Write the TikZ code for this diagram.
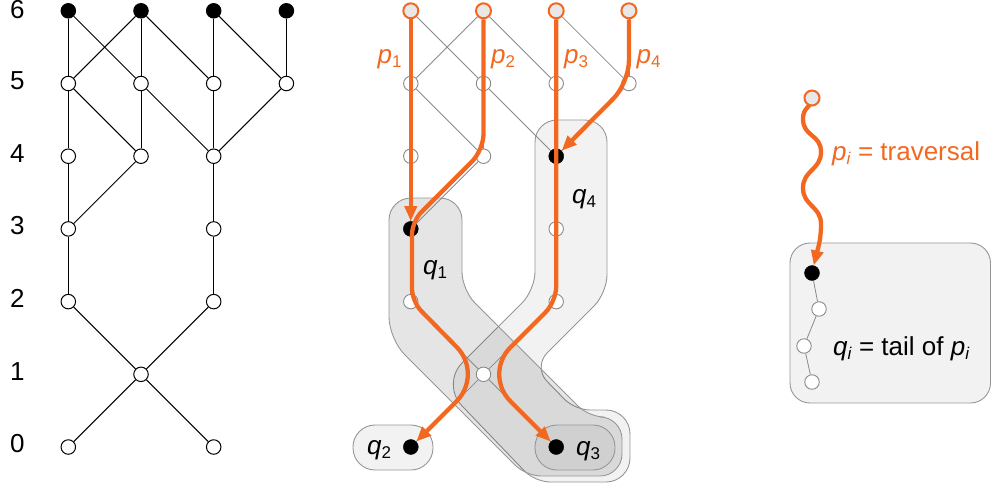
\documentclass[tikz,border=0pt]{standalone}
\usepackage{fontspec}
\setmainfont{Liberation Sans}
\usetikzlibrary{arrows.meta}

\pgfdeclarelayer{bg}
\pgfdeclarelayer{edges}
\pgfdeclarelayer{paths}
\pgfdeclarelayer{front}
\pgfsetlayers{bg,edges,main,paths,front}

\definecolor{trav}{RGB}{243,104,33}
\definecolor{edgegray}{RGB}{138,138,138}
\definecolor{blobline}{RGB}{150,150,150}
\definecolor{startfill}{RGB}{232,232,232}

% letter with a lowered, smaller index
\newcommand\subl[2]{\textit{#1}\raisebox{-4pt}{\fontsize{17}{17}\selectfont #2}}

\begin{document}
\begin{tikzpicture}[x=1pt,y=-1pt,
  lab/.style={inner sep=0pt, font=\fontsize{26}{30}\selectfont},
  lnode/.style={circle, inner sep=0pt, minimum size=14.5pt, draw=black, line width=1pt, fill=white},
  lfull/.style={lnode, fill=black},
  mopen/.style={circle, inner sep=0pt, minimum size=14.5pt, draw=edgegray, line width=0.9pt, fill=white},
  mfull/.style={circle, inner sep=0pt, minimum size=15pt, draw=black, fill=black},
  mstart/.style={circle, inner sep=0pt, minimum size=15pt, draw=trav, line width=2pt, fill=startfill},
  ledge/.style={draw=black, line width=1pt},
  medge/.style={draw=edgegray, line width=0.8pt},
  travpath/.style={draw=trav, line width=4.3pt, -{Triangle[length=15pt,width=12pt]}},
  blob/.style={draw=blobline, line width=0.9pt, fill=black},
]
\useasboundingbox (0,0) rectangle (992,488);

% ---------- level numbers ----------
\node[lab] (row6) at (17.3,10) {6};
\foreach \r/\y in {5/83.5, 4/156.2, 3/228.9, 2/301.6, 1/374.3, 0/447}
  \node[lab] (row\r) at (17.3,\y-3) {\r};

% ---------- left graph ----------
\node[lfull] (la6) at (68.3,10.8) {};
\node[lfull] (lb6) at (141,10.8) {};
\node[lfull] (lc6) at (213.7,10.8) {};
\node[lfull] (ld6) at (286.4,10.8) {};
\node[lnode] (la5) at (68.3,83.5) {};
\node[lnode] (lb5) at (141,83.5) {};
\node[lnode] (lc5) at (213.7,83.5) {};
\node[lnode] (ld5) at (286.4,83.5) {};
\node[lnode] (la4) at (68.3,156.2) {};
\node[lnode] (lb4) at (141,156.2) {};
\node[lnode] (lc4) at (213.7,156.2) {};
\node[lnode] (la3) at (68.3,228.9) {};
\node[lnode] (lc3) at (213.7,228.9) {};
\node[lnode] (la2) at (68.3,301.6) {};
\node[lnode] (lc2) at (213.7,301.6) {};
\node[lnode] (lb1) at (141,374.3) {};
\node[lnode] (la0) at (68.3,447) {};
\node[lnode] (lc0) at (213.7,447) {};

% ---------- tails (shaded regions) ----------
\begin{pgfonlayer}{bg}
  % q4
  \filldraw[blob, fill opacity=0.05] [rounded corners=22pt] (535,200) -- (535,120) -- (607,120)
    [rounded corners=18pt] -- (607,293) [rounded corners=20pt] -- (533,367)
    [rounded corners=15pt] -- (575,410) [rounded corners=24pt] -- (630,410) -- (630,482)
    [rounded corners=15pt] -- (535,482) [rounded corners=30pt] -- (441,384)
    [rounded corners=18pt] -- (535,290) -- cycle;
  % q1
  \filldraw[blob, fill opacity=0.1] [rounded corners=22pt] (389,260) -- (389,198) -- (462,198)
    [rounded corners=18pt] -- (462,290) [rounded corners=15pt] -- (589,417)
    [rounded corners=22pt] -- (622,417) -- (622,476) [rounded corners=15pt] -- (526,476)
    [rounded corners=22pt] -- (389,339) -- cycle;
  % q3 and q2
  \filldraw[blob, fill opacity=0.04, rounded corners=22pt] (535,425) rectangle (615,470);
  \filldraw[blob, fill opacity=0.05, rounded corners=22pt] (353,425) rectangle (433,470);
  % legend box
  \filldraw[blob, fill opacity=0.05, rounded corners=20pt] (790,243) rectangle (990.5,403);
\end{pgfonlayer}

% ---------- middle graph ----------
\begin{pgfonlayer}{front}
  \node[mstart] (ma6) at (410.8,10.8) {};
  \node[mstart] (mb6) at (483.5,10.8) {};
  \node[mstart] (mc6) at (556.2,10.8) {};
  \node[mstart] (md6) at (628.9,10.8) {};
  \node[mstart] (lgs) at (812,98) {};
\end{pgfonlayer}
\node[mopen] (ma5) at (410.8,83.5) {};
\node[mopen] (mb5) at (483.5,83.5) {};
\node[mopen] (mc5) at (556.2,83.5) {};
\node[mopen] (md5) at (628.9,83.5) {};
\node[mopen] (ma4) at (410.8,156.2) {};
\node[mopen] (mb4) at (483.5,156.2) {};
\node[mfull] (mc4) at (556.2,156.2) {};
\node[mfull] (ma3) at (410.8,228.9) {};
\node[mopen] (mc3) at (556.2,228.9) {};
\node[mopen] (ma2) at (410.8,301.6) {};
\node[mopen] (mc2) at (556.2,301.6) {};
\node[mopen] (mb1) at (483.5,374.3) {};
\node[mfull] (ma0) at (410.8,447) {};
\node[mfull] (mc0) at (556.2,447) {};

% ---------- legend nodes ----------
\node[mfull] (lg0) at (812,273) {};
\node[mopen] (lg1) at (819,309) {};
\node[mopen] (lg2) at (804,346) {};
\node[mopen] (lg3) at (812,382) {};

% ---------- edges ----------
\begin{pgfonlayer}{edges}
  \foreach \u/\v in {a6/a5, a6/b5, b6/a5, b6/b5, b6/c5, c6/c5, c6/d5, d6/d5,
                     a5/a4, a5/b4, b5/b4, b5/c4, c5/c4, d5/c4,
                     a4/a3, b4/a3, c4/c3, a3/a2, c3/c2, a2/b1, c2/b1, b1/a0, b1/c0} {
    \draw[ledge] (l\u) -- (l\v);
    \draw[medge] (m\u) -- (m\v);
  }
  \draw[medge] (lg0) -- (lg1) -- (lg2) -- (lg3);
\end{pgfonlayer}

% ---------- traversals ----------
\begin{pgfonlayer}{paths}
  \draw[travpath] (ma6) -- (ma3);
  \draw[travpath] (mb6) [rounded corners=16pt] -- (483.5,150) [rounded corners=13pt] -- (412,221.5)
    -- (412,301.6) [rounded corners=38pt] -- (mb1.center) -- (ma0);
  \draw[travpath] (mc6) [rounded corners=15pt] -- (556.2,301.6) [rounded corners=38pt]
    -- (mb1.center) -- (mc0);
  \draw[travpath] (md6) [rounded corners=22pt] -- (628.9,83) -- (mc4);
  \draw[travpath] (lgs.center) .. controls (812,108) and (803,106) .. (803,119)
    .. controls (803,137) and (821,134) .. (821,152)
    .. controls (821,170) and (803,170) .. (803,188)
    .. controls (803,206) and (821,206) .. (821,224)
    .. controls (821,240) and (818,248) .. (lg0);
\end{pgfonlayer}

% ---------- labels ----------
\node[lab, text=trav] (lp1) at (389.5,59.5) {\subl{p}{1}};
\node[lab, text=trav] (lp2) at (503,59.5) {\subl{p}{2}};
\node[lab, text=trav] (lp3) at (576,59.5) {\subl{p}{3}};
\node[lab, text=trav] (lp4) at (648.5,59.5) {\subl{p}{4}};
\node[lab] (lq1) at (435,270) {\subl{q}{1}};
\node[lab] (lq2) at (379,450) {\subl{q}{2}};
\node[lab] (lq3) at (588,451) {\subl{q}{3}};
\node[lab] (lq4) at (584,199) {\subl{q}{4}};
\node[lab, text=trav, anchor=west] (lgp) at (832,153.5) {\subl{p}{\textit{i}} = traversal};
\node[lab, anchor=west] (lgq) at (833,348.5) {\subl{q}{\textit{i}} = tail of \subl{p}{\textit{i}}};
\end{tikzpicture}
\end{document}
